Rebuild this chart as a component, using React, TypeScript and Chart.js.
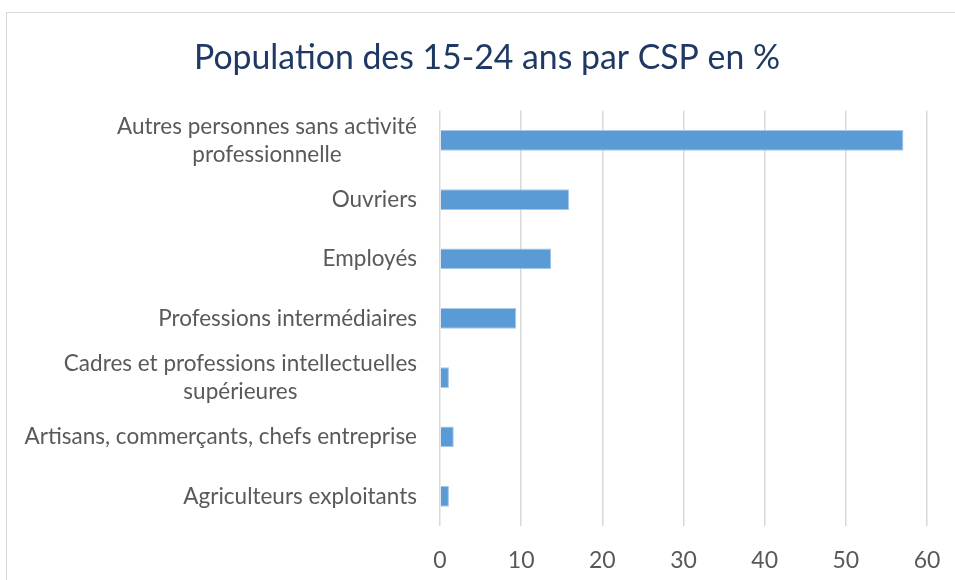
import React, { useEffect, useRef } from "react";
import { Chart, registerables } from "chart.js";

Chart.register(...registerables);

const categories: (string | string[])[] = [
  ["Autres personnes sans activité", "professionnelle"],
  "Ouvriers",
  "Employés",
  "Professions intermédiaires",
  ["Cadres et professions intellectuelles", "supérieures"],
  "Artisans, commerçants, chefs entreprise",
  "Agriculteurs exploitants",
];
const values = [57.1, 15.9, 13.7, 9.4, 1.1, 1.7, 1.1];
const xTicks = [0, 10, 20, 30, 40, 50, 60];
const title = "Population des 15-24 ans par CSP en %";

const FONT = "Lato, 'Open Sans', sans-serif";

const framePlugin = {
  id: "frame",
  beforeDraw(chart: any) {
    const ctx = chart.ctx;
    ctx.save();
    ctx.fillStyle = "#ffffff";
    ctx.fillRect(0, 0, chart.width, chart.height);
    ctx.strokeStyle = "#d9d9d9";
    ctx.lineWidth = 1;
    ctx.strokeRect(6.5, 12.5, 1000, 1000);
    ctx.restore();
  },
};

const titlePlugin = {
  id: "centeredTitle",
  afterDraw(chart: any) {
    const ctx = chart.ctx;
    ctx.save();
    ctx.font = `33.8px ${FONT}`;
    ctx.fillStyle = "#1f3864";
    ctx.textAlign = "center";
    ctx.textBaseline = "middle";
    ctx.fillText(title, 487, 58);
    ctx.restore();
  },
};

const labelPlugin = {
  id: "catLabels",
  afterDraw(chart: any) {
    const ctx = chart.ctx;
    const y = chart.scales.y;
    const right = 417;
    const lh = 28;
    ctx.save();
    ctx.font = `22.5px ${FONT}`;
    ctx.fillStyle = "#595959";
    ctx.textBaseline = "middle";
    ctx.textAlign = "center";
    categories.forEach((lab, i) => {
      const lines = Array.isArray(lab) ? lab : [lab];
      const cy = y.getPixelForValue(i);
      const maxW = Math.max(...lines.map((l) => ctx.measureText(l).width));
      lines.forEach((ln, j) => {
        const ly = cy + (j - (lines.length - 1) / 2) * lh;
        ctx.fillText(ln, right - maxW / 2, ly);
      });
    });
    ctx.restore();
  },
};

export default function App() {
  const ref = useRef<HTMLCanvasElement>(null);
  useEffect(() => {
    if (!ref.current) return;
    const chart = new Chart(ref.current, {
      type: "bar",
      data: {
        labels: categories,
        datasets: [
          {
            data: values,
            backgroundColor: "#5b9bd5",
            borderColor: "#a7c8e8",
            borderWidth: 1,
            barPercentage: 0.35,
            categoryPercentage: 1,
          },
        ],
      },
      options: {
        indexAxis: "y",
        animation: false,
        responsive: false,
        layout: { padding: { top: 110.6, right: 28, bottom: 0, left: 0 } },
        plugins: {
          legend: { display: false },
          tooltip: { enabled: false },
          title: { display: false },
        },
        scales: {
          x: {
            min: 0,
            max: 60,
            afterBuildTicks(scale: any) {
              scale.ticks = xTicks.map((v) => ({ value: v }));
            },
            afterFit(scale: any) {
              scale.height = 54;
              scale.paddingLeft = 0;
              scale.paddingRight = 0;
            },
            grid: { color: "#d9d9d9", lineWidth: 1.5, drawTicks: false },
            border: { display: false },
            ticks: {
              color: "#595959",
              font: { family: FONT, size: 23 },
              padding: 21,
            },
          },
          y: {
            grid: { display: false },
            border: { display: false },
            ticks: { display: false },
            afterFit(scale: any) {
              scale.width = 440;
            },
          },
        },
      },
      plugins: [framePlugin, labelPlugin, titlePlugin],
    });
    return () => chart.destroy();
  }, []);
  return (
    <div style={{ position: "fixed", left: 0, top: 0, width: 955, height: 580 }}>
      <canvas ref={ref} width={955} height={580} />
    </div>
  );
}
